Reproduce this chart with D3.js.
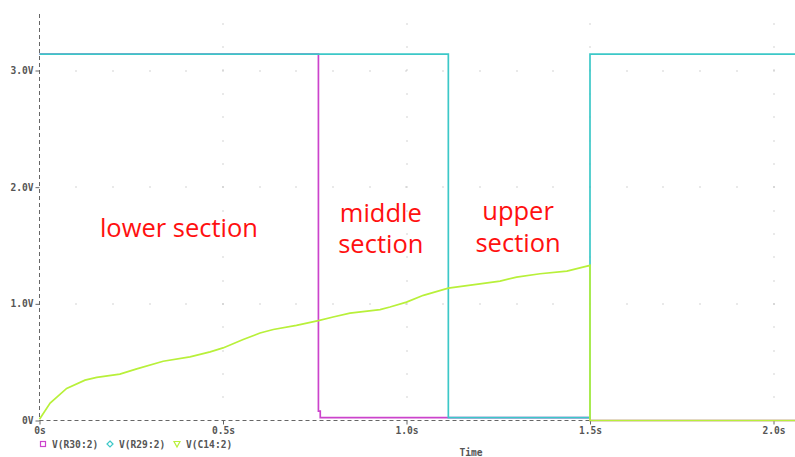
<!DOCTYPE html>
<html>
<head>
<meta charset="utf-8">
<script src="https://cdn.jsdelivr.net/npm/d3@7"></script>
<style>
  html, body { margin: 0; padding: 0; background: #fff; }
  svg { display: block; }
  .tick-label { font-family: "DejaVu Sans Mono", monospace; font-size: 9.6px; font-weight: bold; fill: #555; }
  .note { font-family: "Open Sans", sans-serif; font-size: 25.5px; fill: #ff1010; }
</style>
</head>
<body>
<svg id="chart" width="795" height="457"></svg>
<script>
// Simulation traces (seconds, volts)
const r30Time = [0, 0.76, 0.76, 0.765, 0.765, 1.5, 1.5, 2.06];
const r30Volts = [3.14, 3.14, 0.08, 0.08, 0.024, 0.024, 0, 0];

const r29Time = [0, 1.114, 1.114, 1.5, 1.5, 2.06];
const r29Volts = [3.14, 3.14, 0.024, 0.024, 3.14, 3.14];

const c14Time = [0, 0.029, 0.074, 0.124, 0.156, 0.219, 0.265, 0.337, 0.41, 0.465, 0.5,
  0.555, 0.601, 0.637, 0.70, 0.76, 0.80, 0.846, 0.928, 0.955, 1.0, 1.046, 1.114,
  1.205, 1.255, 1.30, 1.364, 1.437, 1.5, 1.5, 2.06];
const c14Volts = [0.01, 0.15, 0.275, 0.346, 0.369, 0.397, 0.443, 0.508, 0.545, 0.588, 0.622,
  0.694, 0.75, 0.78, 0.816, 0.856, 0.887, 0.921, 0.95, 0.973, 1.015, 1.073, 1.135,
  1.173, 1.195, 1.229, 1.258, 1.28, 1.329, 0, 0];

const xTicks = [0, 0.5, 1.0, 1.5, 2.0];
const xTickLabels = ["0s", "0.5s", "1.0s", "1.5s", "2.0s"];
const yTicks = [0, 1, 2, 3];
const yTickLabels = ["0V", "1.0V", "2.0V", "3.0V"];

const seriesNames = ["V(R30:2)", "V(R29:2)", "V(C14:2)"];
const seriesColors = ["#cc44cc", "#3cc8c8", "#b8f03a"];

const notes = [
  { lines: ["lower section"], t: 0.38, v: 1.573 },
  { lines: ["middle", "section"], t: 0.93, v: 1.704 },
  { lines: ["upper", "section"], t: 1.304, v: 1.718 }
];

const svg = d3.select("#chart");
const W = 795, H = 457;

const x = d3.scaleLinear().domain([0, 2]).range([39.5, 773.5]);
const y = d3.scaleLinear().domain([0, 3]).range([420.5, 70.5]);
const plotTop = 14;
const tMax = x.invert(W);
const vMax = y.invert(plotTop);

// dotted grid: dots along major verticals every 0.2 V, along major horizontals every 0.1 s
const grid = svg.append("g").attr("fill", "#a8a8a8");
xTicks.filter(t => t > 0).forEach(t => {
  for (let v = 0.2; v <= vMax + 1e-6; v += 0.2) {
    grid.append("rect").attr("x", Math.round(x(t)) - 0.5).attr("y", Math.round(y(v)) - 0.5)
      .attr("width", 1).attr("height", 1);
  }
});
yTicks.filter(v => v > 0).forEach(v => {
  for (let t = 0.1; t <= tMax + 1e-6; t += 0.1) {
    grid.append("rect").attr("x", Math.round(x(t)) - 0.5).attr("y", Math.round(y(v)) - 0.5)
      .attr("width", 1).attr("height", 1);
  }
});

// dashed axes
svg.append("line").attr("x1", x(0)).attr("x2", W).attr("y1", y(0)).attr("y2", y(0))
  .attr("stroke", "#666").attr("stroke-width", 1).attr("stroke-dasharray", "4,3");
svg.append("line").attr("x1", x(0)).attr("x2", x(0)).attr("y1", plotTop).attr("y2", y(0))
  .attr("stroke", "#666").attr("stroke-width", 1).attr("stroke-dasharray", "4,3");

// axis ticks and labels
const yAxis = d3.axisLeft(y).tickValues(yTicks).tickSize(4).tickPadding(2)
  .tickFormat((d, i) => yTickLabels[i]);
const gy = svg.append("g").attr("transform", `translate(${x(0)},0)`).call(yAxis);
gy.select(".domain").remove();
gy.selectAll("line").attr("stroke", "#666");
gy.selectAll("text").attr("class", "tick-label").attr("font-family", null).attr("font-size", null).attr("fill", null);

const xAxis = d3.axisBottom(x).tickValues(xTicks).tickSize(4).tickPadding(3)
  .tickFormat((d, i) => xTickLabels[i]);
const gx = svg.append("g").attr("transform", `translate(0,${y(0)})`).call(xAxis);
gx.select(".domain").remove();
gx.selectAll("line").attr("stroke", "#666");
gx.selectAll("text").attr("class", "tick-label").attr("font-family", null).attr("font-size", null).attr("fill", null);

// traces
const line = d3.line().x(d => x(d[0])).y(d => y(d[1]));
const traces = [
  d3.zip(r30Time, r30Volts),
  d3.zip(r29Time, r29Volts),
  d3.zip(c14Time, c14Volts)
];
svg.append("clipPath").attr("id", "plot-clip").append("rect")
  .attr("x", 0).attr("y", 0).attr("width", W).attr("height", y(0) + 2);
const gLines = svg.append("g").attr("clip-path", "url(#plot-clip)");
traces.forEach((pts, i) => {
  gLines.append("path").datum(pts).attr("d", line)
    .attr("fill", "none").attr("stroke", seriesColors[i]).attr("stroke-width", 1.7);
});

// annotations
notes.forEach(n => {
  const t = svg.append("text").attr("class", "note").attr("text-anchor", "middle");
  n.lines.forEach((s, k) => {
    t.append("tspan").attr("x", x(n.t)).attr("y", y(n.v) + k * 31.5).text(s);
  });
});

// legend
const legend = svg.append("g").attr("transform", "translate(0,444)");
const legendX = [43, 110, 177];
seriesNames.forEach((name, i) => {
  const g = legend.append("g").attr("transform", `translate(${legendX[i]},0)`);
  if (i === 0) {
    g.append("rect").attr("x", -2.5).attr("y", -2.5).attr("width", 5).attr("height", 5)
      .attr("fill", "none").attr("stroke", seriesColors[i]).attr("stroke-width", 1.2);
  } else if (i === 1) {
    g.append("path").attr("d", "M0,-3 L3,0 L0,3 L-3,0 Z")
      .attr("fill", "none").attr("stroke", seriesColors[i]).attr("stroke-width", 1.2);
  } else {
    g.append("path").attr("d", "M-3,-2.5 L3,-2.5 L0,3 Z")
      .attr("fill", "none").attr("stroke", seriesColors[i]).attr("stroke-width", 1.2);
  }
  g.append("text").attr("class", "tick-label").attr("x", 9).attr("y", 3.5).text(name);
});

svg.append("text").attr("class", "tick-label").attr("x", 471).attr("y", 456)
  .attr("text-anchor", "middle").text("Time");
</script>
</body>
</html>
